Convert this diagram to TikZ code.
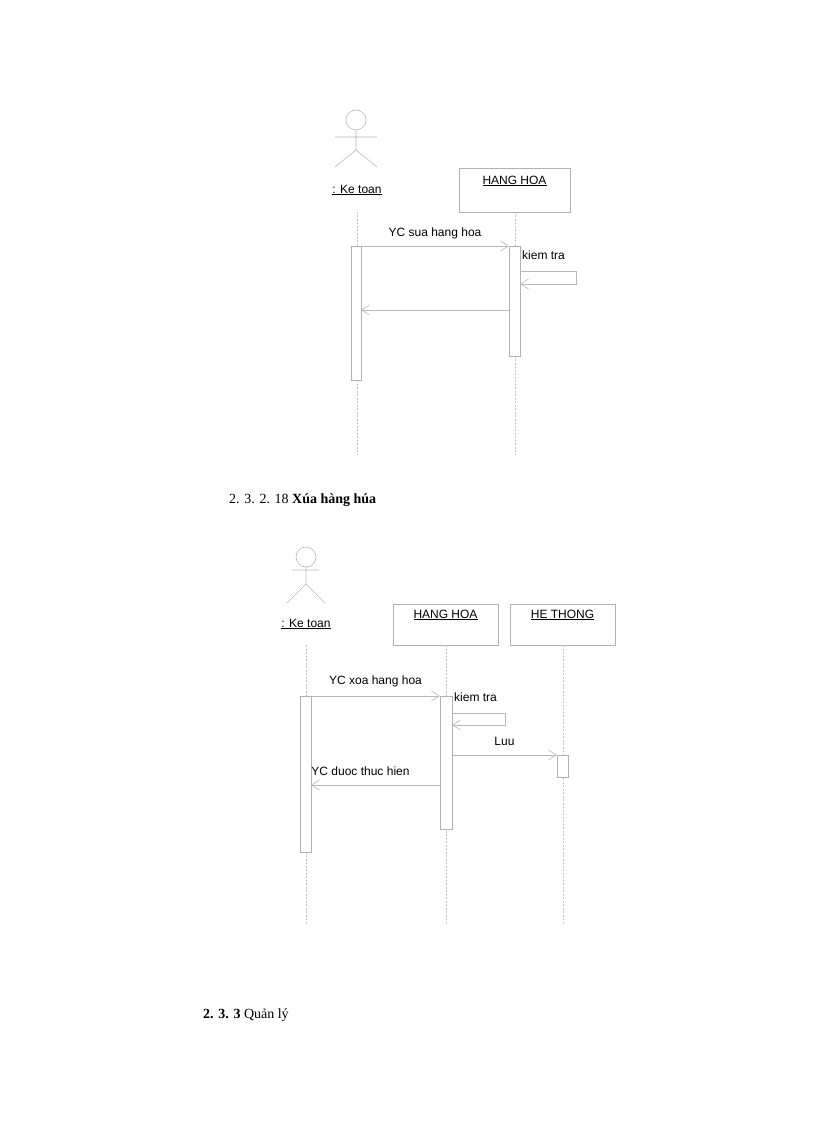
\documentclass[tikz,border=0pt]{standalone}
\usepackage{fontspec}
\setmainfont{Liberation Serif}
\newfontfamily\arialf{Liberation Sans}
\usetikzlibrary{arrows.meta}
\begin{document}
\begin{tikzpicture}[x=1pt,y=-1pt,
 ln/.style={draw=gray!55,line width=0.6pt},
 life/.style={draw=gray!45,line width=0.6pt,dash pattern=on 2pt off 1.5pt},
 actbox/.style={draw=gray!60,fill=white,line width=0.6pt},
 msg/.style={ln,-{Straight Barb[length=8pt,width=10pt,line width=0.6pt]}},
 lab/.style={font=\arialf\fontsize{12}{14}\selectfont,inner sep=1pt},
 captext/.style={font=\fontsize{14}{16}\selectfont,anchor=west,inner sep=0pt}]
\useasboundingbox (0,0) rectangle (816,1123);
% ===== diagram 1 =====
\draw[ln] (356,120) circle (10);
\draw[ln] (335,137) -- (377,137) (356,130) -- (356,150) (335,167) -- (356,150) -- (377,167);
\node[lab] (a1) at (357,190) {\underline{: Ke toan}};
\node[draw=gray!60,line width=0.6pt,minimum width=111pt,minimum height=44pt] (h1) at (514.5,190) {};
\node[lab] at (514.5,181) {\underline{HANG HOA}};
\coordinate (a1t) at (357,212); \coordinate (a1b) at (357,455);
\coordinate (h1t) at (515,212); \coordinate (h1b) at (515,455);
\draw[life] (a1t) -- (a1b); \draw[life] (h1t) -- (h1b);
\draw[actbox] (351,246) rectangle (361,380);
\draw[actbox] (509,246) rectangle (520,356);
\coordinate (m1s) at (361,246); \coordinate (m1e) at (509,246);
\draw[msg] (m1s) -- node[lab,above=6pt]{YC sua hang hoa} (m1e);
\node[lab,anchor=west] at (521,255) {kiem tra};
\draw[msg] (520,271) -- (576,271) -- (576,284) -- (520,284);
\coordinate (r1s) at (509,310); \coordinate (r1e) at (361,310);
\draw[msg] (r1s) -- (r1e);
% caption
\node[captext] at (229,500) {2. 3. 2. 18 \textbf{Xúa hàng húa}};
% ===== diagram 2 =====
\draw[ln] (306,557) circle (10);
\draw[ln] (292,570) -- (319,570) (306,567) -- (306,584) (287,603) -- (306,584) -- (325,603);
\node[lab] (a2) at (306,624) {\underline{: Ke toan}};
\node[draw=gray!60,line width=0.6pt,minimum width=105pt,minimum height=41pt] (h2) at (445.5,624.5) {};
\node[lab] at (445.5,615) {\underline{HANG HOA}};
\node[draw=gray!60,line width=0.6pt,minimum width=105pt,minimum height=41pt] (t2) at (562.5,624.5) {};
\node[lab] at (562.5,615) {\underline{HE THONG}};
\draw[life] (306,645) -- (306,925);
\draw[life] (446,645) -- (446,925);
\draw[life] (563,645) -- (563,925);
\draw[actbox] (300,696) rectangle (311,852);
\draw[actbox] (440,696) rectangle (452,829);
\draw[actbox] (557,755) rectangle (568,777);
\draw[msg] (311,696) -- node[lab,above=8pt]{YC xoa hang hoa} (440,696);
\node[lab,anchor=west] at (453,697) {kiem tra};
\draw[msg] (452,713) -- (505,713) -- (505,725) -- (452,725);
\draw[msg] (452,755) -- node[lab,above=8pt]{Luu} (557,755);
\draw[msg] (440,785) -- node[lab,above=8pt,xshift=-15pt]{YC duoc thuc hien} (311,785);
\node[captext] at (203,1015) {\textbf{2. 3. 3} Quản lý};
\end{tikzpicture}
\end{document}
